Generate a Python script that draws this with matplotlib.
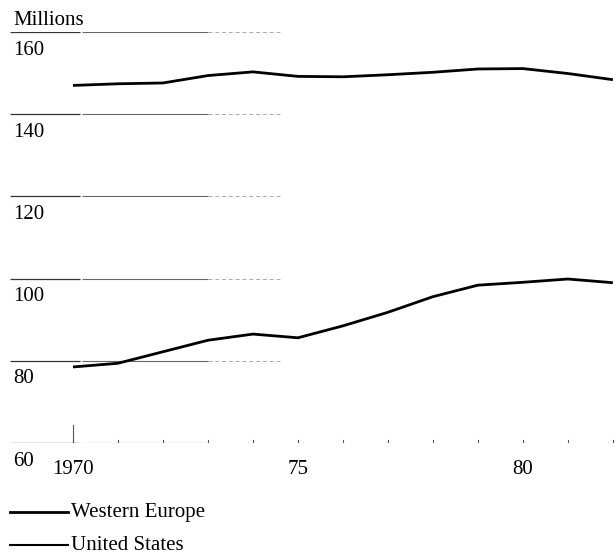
import matplotlib
matplotlib.use("Agg")
import matplotlib.pyplot as plt

years = [1970, 1971, 1972, 1973, 1974, 1975, 1976, 1977, 1978, 1979, 1980, 1981, 1982]
western_europe = [147.0, 147.4, 147.6, 149.4, 150.3, 149.2, 149.1, 149.6, 150.2, 151.0, 151.1, 149.9, 148.4]
united_states = [78.5, 79.4, 82.2, 85.0, 86.5, 85.6, 88.5, 91.8, 95.6, 98.4, 99.1, 99.9, 99.0]
y_ticks = [60, 80, 100, 120, 140, 160]
x_tick_pos = [1970, 1975, 1980]
x_tick_labels = ["1970", "75", "80"]

plt.rcParams['font.family'] = ['Liberation Serif', 'DejaVu Serif']
FS = 15

W, H = 616, 554
fig = plt.figure(figsize=(W / 100, H / 100), dpi=100)
ax = fig.add_axes([10 / W, (H - 443) / H, 606 / W, 411 / H])
ax.set_xlim(1968.6, 1982.07)
ax.set_ylim(60, 160)
ax.axis('off')

# gridlines (partial, as in the printed original)
for v in y_ticks:
    ax.plot([1968.6, 1970.15], [v, v], color='#333333', lw=0.9, solid_capstyle='butt')
    ax.plot([1970.2, 1973.0], [v, v], color='#666666', lw=0.8, solid_capstyle='butt')
    ax.plot([1973.0, 1974.6], [v, v], color='#aaaaaa', lw=0.7, ls=(0, (4, 3)))
    ax.text(1968.67, v - 4.4, str(v), ha='left', va='center', fontsize=FS)

ax.text(1968.67, 162.9, "Millions", ha='left', va='center', fontsize=FS, clip_on=False)

# tick marks on baseline
for yr in years:
    ax.plot([yr, yr], [60, 60.8], color='#555555', lw=0.8)
ax.plot([1970, 1970], [60, 64.5], color='#555555', lw=0.8)

for xp, lab in zip(x_tick_pos, x_tick_labels):
    ax.text(xp, 53.6, lab, ha='center', va='center', fontsize=FS, clip_on=False)

ax.plot(years, western_europe, color='black', lw=2.0, solid_capstyle='butt')
ax.plot(years, united_states, color='black', lw=2.0, solid_capstyle='butt')

# legend
fig.lines.append(plt.Line2D([10 / W, 68 / W], [1 - 512 / H, 1 - 512 / H], color='black', lw=2.0, transform=fig.transFigure))
fig.lines.append(plt.Line2D([10 / W, 68 / W], [1 - 545 / H, 1 - 545 / H], color='black', lw=1.5, transform=fig.transFigure))
fig.text(71 / W, 1 - 513 / H, "Western Europe", ha='left', va='center', fontsize=FS)
fig.text(71 / W, 1 - 546 / H, "United States", ha='left', va='center', fontsize=FS)

fig.savefig("out.png", dpi=100)
